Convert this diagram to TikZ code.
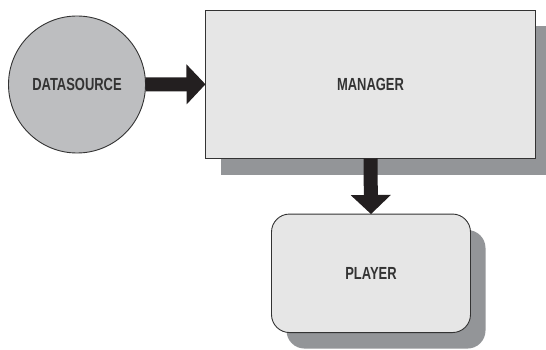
\documentclass[tikz,border=0pt]{standalone}
\usepackage{fontspec}
\setmainfont{Liberation Sans}[FakeStretch=0.74]
\usetikzlibrary{arrows.meta,shadows}
\definecolor{circfill}{HTML}{BDBEC0}
\definecolor{boxfill}{HTML}{E6E6E6}
\definecolor{shadowgray}{HTML}{939598}
\definecolor{edgecol}{HTML}{333333}
\definecolor{arrowcol}{HTML}{231F20}
\definecolor{txtcol}{HTML}{333333}
\tikzset{
  lbl/.style={font=\fontsize{17.5}{19}\selectfont\bfseries, text=txtcol},
  boxshadow/.style={general shadow={fill=shadowgray, shadow xshift=15pt, shadow yshift=-16pt}},
  base/.style={draw=edgecol, line width=0.9pt, inner sep=0pt, outer sep=0pt, lbl},
  fatarrow/.style={draw=arrowcol, line width=14pt,
    -{Triangle[length=19pt, width=39pt, fill=arrowcol]}},
}
\begin{document}
\begin{tikzpicture}[x=1pt, y=-1pt]
\useasboundingbox (0,0) rectangle (546,350);
\node[base, circle, fill=circfill, minimum size=137pt] (ds) at (77,84.5) {DATASOURCE};
\node[base, rectangle, fill=boxfill, boxshadow, minimum width=330pt, minimum height=148.5pt] (mgr) at (370.5,84.3) {MANAGER};
\node[base, rectangle, rounded corners=18pt, fill=boxfill, boxshadow, minimum width=199pt, minimum height=118.5pt] (pl) at (371,273.3) {PLAYER};
\draw[fatarrow] (ds.east) -- (mgr.west);
\draw[fatarrow] (mgr.south) -- (pl.north);
\end{tikzpicture}
\end{document}
